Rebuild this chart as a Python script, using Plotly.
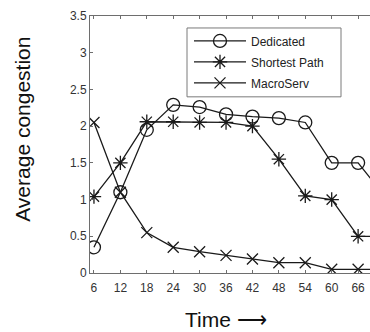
import plotly.graph_objects as go

time = [6, 12, 18, 24, 30, 36, 42, 48, 54, 60, 66, 72]
dedicated = [0.35, 1.1, 1.95, 2.29, 2.26, 2.16, 2.13, 2.11, 2.05, 1.5, 1.5, 1.05]
shortest = [1.04, 1.5, 2.06, 2.06, 2.05, 2.05, 2.0, 1.55, 1.05, 1.0, 0.5, 0.5]
macroserv = [2.05, 1.1, 0.55, 0.35, 0.29, 0.24, 0.19, 0.14, 0.14, 0.05, 0.05, 0.05]
x_ticks = [6, 12, 18, 24, 30, 36, 42, 48, 54, 60, 66, 72]
y_ticks = [0, 0.5, 1, 1.5, 2, 2.5, 3, 3.5]
y_tick_text = ["0", "0.5", "1", "1.5", "2", "2.5", "3", "3.5"]

LINE = "#1a1a1a"
AX = "#6e6e6e"
FONT = "Liberation Sans, Arial, sans-serif"

# plot-area pixel geometry
L, R, T, B = 90, 370, 16, 273.5
PW, PH = R - L, B - T

def px(xp):
    return (xp - L) / PW

def py(yp):
    return (B - yp) / PH

fig = go.Figure()
fig.add_trace(go.Scatter(x=time, y=dedicated, name="Dedicated", mode="lines+markers",
                         legend="legend",
                         line=dict(color=LINE, width=1.3),
                         marker=dict(symbol="circle-open", size=13, color=LINE, line=dict(width=1.3))))
fig.add_trace(go.Scatter(x=time, y=shortest, name="Shortest Path", mode="lines+markers",
                         legend="legend2",
                         line=dict(color=LINE, width=1.3),
                         marker=dict(symbol="asterisk-open", size=12, color=LINE, line=dict(width=1.3, color=LINE))))
fig.add_trace(go.Scatter(x=time, y=macroserv, name="MacroServ", mode="lines+markers",
                         legend="legend3",
                         line=dict(color=LINE, width=1.3),
                         marker=dict(symbol="x-thin-open", size=11, color=LINE, line=dict(width=1.3, color=LINE))))

def leg(yrow):
    return dict(x=px(189), y=py(yrow), xanchor="left", yanchor="middle",
                bgcolor="rgba(0,0,0,0)", borderwidth=0,
                font=dict(size=12, color="#222222"), itemwidth=52)

fig.update_layout(
    width=370, height=332,
    margin=dict(l=L, r=370 - R, t=T, b=332 - B),
    plot_bgcolor="white", paper_bgcolor="white",
    font=dict(family=FONT, size=12, color="#333333"),
    showlegend=True,
    legend=leg(41), legend2=leg(62), legend3=leg(83),
    shapes=[dict(type="rect", xref="paper", yref="paper",
                 x0=px(187), x1=px(341), y0=py(97), y1=py(28),
                 line=dict(color="#7a7a7a", width=1), fillcolor="white", layer="above")],
    xaxis=dict(range=[5.1, 68.7], tickvals=x_ticks, ticks="inside", ticklen=3,
               tickcolor=AX, showline=True, linecolor=AX, linewidth=1, mirror="ticks",
               showgrid=False, zeroline=False, ticklabelstandoff=4,
               tickfont=dict(size=12, color="#333333")),
    yaxis=dict(range=[0, 3.5], tickvals=y_ticks, ticktext=y_tick_text, ticks="inside", ticklen=3,
               tickcolor=AX, showline=True, linecolor=AX, linewidth=1, mirror=False,
               showgrid=False, zeroline=False,
               tickfont=dict(size=12, color="#333333")),
    annotations=[
        dict(text="Average congestion", textangle=-90, xref="paper", yref="paper",
             x=px(23), y=py(130), xanchor="center", yanchor="middle", showarrow=False,
             font=dict(size=21, color="#111111")),
        dict(text="Time \u27f6", xref="paper", yref="paper",
             x=px(226), y=py(320), xanchor="center", yanchor="middle",
             showarrow=False, font=dict(size=21, color="#111111")),
    ],
)

fig.write_html("out.html", config={"displayModeBar": False},
               post_script="document.body.style.margin='0';document.body.style.padding='0';")
